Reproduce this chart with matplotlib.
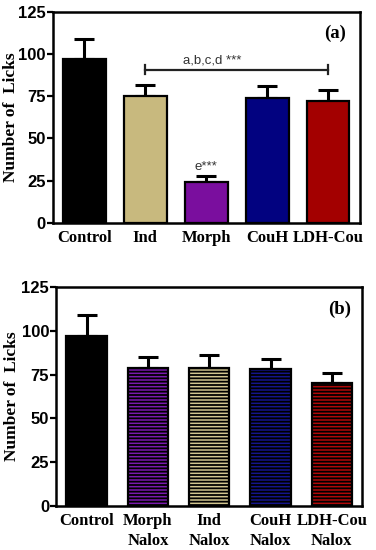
import matplotlib.pyplot as plt
import numpy as np

# datos panel (a)
grupos_a = ['Control', 'Ind', 'Morph', 'CouH', 'LDH-Cou']
media_a = [97, 75, 24, 74, 72]
error_a = [12, 7, 4, 7, 7]
colores_a = ['#000000', '#C8B97E', '#7A0E9E', '#020280', '#A30000']

# datos panel (b)
grupos_b = ['Control', 'Morph\nNalox', 'Ind\nNalox', 'CouH\nNalox', 'LDH-Cou\nNalox']
media_b = [97, 79, 79, 78, 70]
error_b = [12, 6, 7, 6, 6]
colores_b = ['#000000', '#7A1AAE', '#D2C690', '#14148C', '#B00808']
rayado_b = [None, '-----', '-----', '-----', '-----']

yticks = [0, 25, 50, 75, 100, 125]

plt.rcParams['hatch.linewidth'] = 1.3
plt.rcParams['hatch.color'] = 'black'

fig = plt.figure(figsize=(3.76, 5.5), dpi=100)
ax1 = fig.add_axes([0.140, 0.595, 0.817, 0.383])
ax2 = fig.add_axes([0.149, 0.080, 0.815, 0.398])


def panel(ax, grupos, media, error, colores, rayado, etiqueta, ancho, xlim, xlab):
    x = np.arange(len(grupos))
    for i in range(len(grupos)):
        ax.bar(x[i], media[i], width=ancho, color=colores[i], edgecolor='black',
               linewidth=1.6, hatch=rayado[i], zorder=2)
    ax.errorbar(x, media, yerr=[np.zeros(len(error)), error], fmt='none',
                ecolor='black', elinewidth=2.2, capsize=7, capthick=2.2, zorder=1)
    ax.set_ylim(0, 125)
    ax.set_xlim(*xlim)
    ax.set_yticks(yticks)
    ax.set_yticklabels([str(v) for v in yticks],
                       fontfamily=['Liberation Sans Narrow', 'Liberation Sans'],
                       fontweight='bold', fontsize=12)
    ax.set_xticks(x)
    ax.set_xticklabels(grupos, fontfamily='Liberation Serif', fontweight='bold',
                       fontsize=12, linespacing=1.35)
    ax.tick_params(axis='x', length=0, pad=5)
    ax.tick_params(axis='y', length=4, width=1.6, pad=1)
    for s in ax.spines.values():
        s.set_linewidth(1.8)
    ax.set_ylabel('Number of  Licks', fontfamily='Liberation Serif',
                  fontweight='bold', fontsize=12.5)
    ax.yaxis.set_label_coords(xlab, 0.5)
    ax.yaxis.label.set_va('center')
    ax.text(4.12, 112.5, etiqueta, fontfamily='Liberation Serif', fontweight='bold',
            fontsize=13.5, ha='center', va='center')


panel(ax1, grupos_a, media_a, error_a, colores_a, [None] * 5, '(a)', 0.70,
      (-0.52, 4.52), -0.137)
panel(ax2, grupos_b, media_b, error_b, colores_b, rayado_b, '(b)', 0.66,
      (-0.5, 4.5), -0.145)

# anotaciones de significancia en (a)
ax1.plot([1, 4], [90.5, 90.5], color='#222222', lw=1.6)
ax1.plot([1, 1], [88, 93.5], color='#222222', lw=1.6)
ax1.plot([4, 4], [88, 93.5], color='#222222', lw=1.6)
ax1.text(2.1, 93, 'a,b,c,d ***', ha='center', va='bottom', fontsize=9.5,
         fontfamily='Liberation Sans', color='#333333')
ax1.text(2, 29.5, 'e***', ha='center', va='bottom', fontsize=9.5,
         fontfamily='Liberation Sans', color='#333333')

fig.savefig('out.png', dpi=100)
